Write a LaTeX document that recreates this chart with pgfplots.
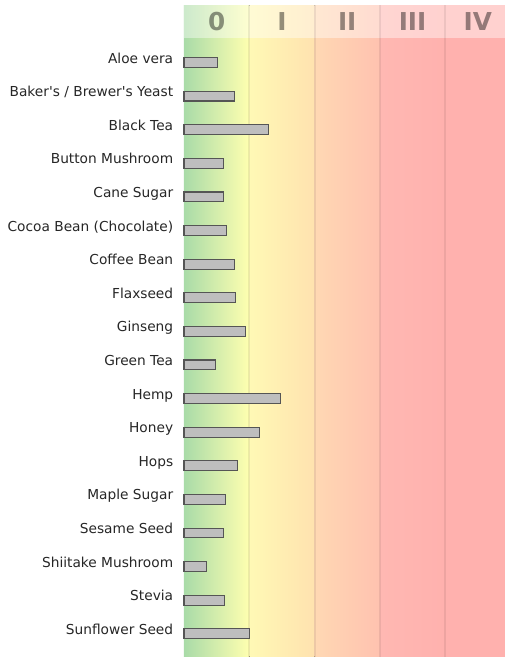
\documentclass[border=0pt]{standalone}
\usepackage{fontspec}
\setmainfont{DejaVu Sans}
\usepackage{pgfplots}
\pgfplotsset{compat=1.18}

\definecolor{gLeft}{HTML}{A9DBA8}
\definecolor{gYel}{HTML}{FFFFB0}
\definecolor{oA}{HTML}{FFF9B5}
\definecolor{oB}{HTML}{FFE2AF}
\definecolor{rA}{HTML}{FFD8B3}
\definecolor{rB}{HTML}{FFC2B0}
\definecolor{pA}{HTML}{FFB8B2}
\definecolor{pB}{HTML}{FFB1AE}
\definecolor{barfill}{HTML}{BEBEBE}
\definecolor{baredge}{HTML}{555555}

\tikzset{hdr/.style={font=\bfseries\fontsize{18.5}{18.5}\selectfont, text=black, text opacity=0.42},
  sep/.style={black, opacity=0.07, line width=1.5pt}}

\begin{document}
\begin{tikzpicture}
% page = 505 x 657 px at 0.75pt per px; axis box sits at (0,0)
\useasboundingbox (-138pt,0) rectangle (240.75pt,492.75pt);
\begin{axis}[
  scale only axis,
  width=240.75pt, height=489pt,
  xmin=0, xmax=4.916,
  ymin=-1.71, ymax=17.69,
  y dir=reverse,
  axis line style={draw=none},
  xtick=\empty,
  ytick={0,...,17},
  yticklabels={Aloe vera,Baker\textquotesingle s / Brewer\textquotesingle s Yeast,Black Tea,Button Mushroom,Cane Sugar,Cocoa Bean (Chocolate),Coffee Bean,Flaxseed,Ginseng,Green Tea,Hemp,Honey,Hops,Maple Sugar,Sesame Seed,Shiitake Mushroom,Stevia,Sunflower Seed},
  major tick length=0pt,
  ytick style={draw=none},
  yticklabel style={anchor=base east, xshift=-4.6pt, yshift=-0.4pt, text=black!85,
    font=\fontsize{10.3}{12}\selectfont},
  xbar, bar width=7.4pt, bar shift=0pt,
  clip=false,
]
  % coloured columns (solid base first, so that no seams show)
  \fill[pB] (axis cs:0,-1.71) rectangle (axis cs:5.1,18);
  \fill[left color=gLeft, right color=gYel] (axis cs:0,-1.71) rectangle (axis cs:1,18);
  \fill[left color=oA, right color=oB] (axis cs:1,-1.71) rectangle (axis cs:2,18);
  \fill[left color=rA, right color=rB] (axis cs:2,-1.71) rectangle (axis cs:3,18);
  \fill[left color=pA, right color=pB] (axis cs:3,-1.71) rectangle (axis cs:4,18);
  % header band
  \fill[white, opacity=0.42] (axis cs:0,-1.71) rectangle (axis cs:5.1,-0.72);
  % separators
  \draw[sep] (axis cs:1,-1.71) -- (axis cs:1,18);
  \draw[sep] (axis cs:2,-1.71) -- (axis cs:2,18);
  \draw[sep] (axis cs:3,-1.71) -- (axis cs:3,18);
  \draw[sep] (axis cs:4,-1.71) -- (axis cs:4,18);
  % header labels
  \node[hdr] at (axis cs:0.5,-1.22) {0};
  \node[hdr] at (axis cs:1.5,-1.22) {I};
  \node[hdr] at (axis cs:2.5,-1.22) {II};
  \node[hdr] at (axis cs:3.5,-1.22) {III};
  \node[hdr] at (axis cs:4.5,-1.22) {IV};
  \addplot[fill=barfill, draw=baredge, line width=0.8pt] coordinates {
    (0.52,0) (0.77,1) (1.29,2) (0.61,3) (0.60,4) (0.65,5)
    (0.77,6) (0.79,7) (0.94,8) (0.48,9) (1.48,10) (1.16,11)
    (0.82,12) (0.64,13) (0.60,14) (0.35,15) (0.62,16) (1.00,17)
  };
\end{axis}
\end{tikzpicture}
\end{document}
